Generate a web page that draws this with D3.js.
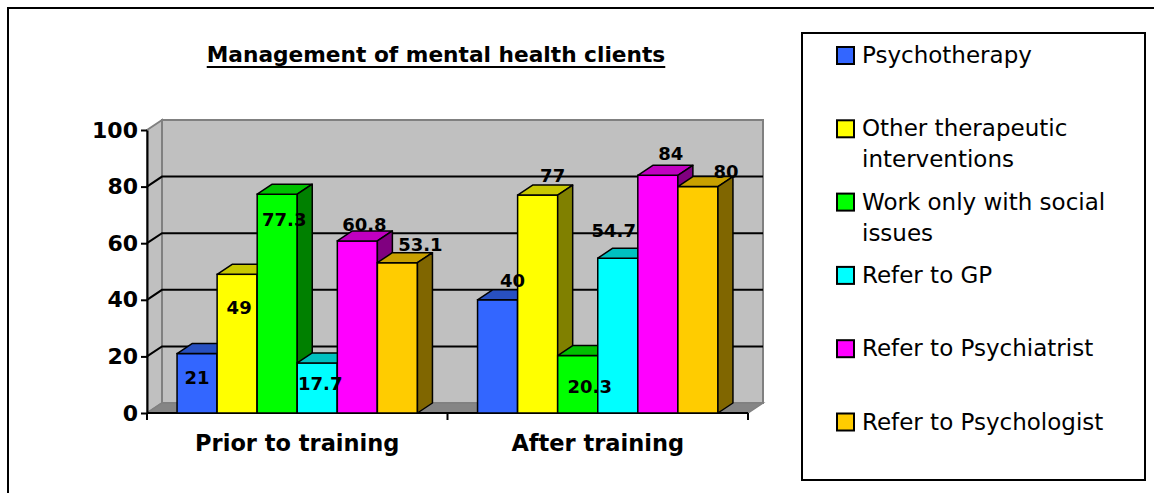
<!DOCTYPE html>
<html>
<head>
<meta charset="utf-8">
<script src="https://d3js.org/d3.v7.min.js"></script>
<style>
body { margin: 0; background: #fff; }
svg { display: block; font-family: "DejaVu Sans", sans-serif; }
</style>
</head>
<body>
<script>
// chart values
var categories = ["Prior to training", "After training"];
var seriesNames = ["Psychotherapy", "Other therapeutic interventions", "Work only with social issues",
                   "Refer to GP", "Refer to Psychiatrist", "Refer to Psychologist"];
var priorValues = [21, 49, 77.3, 17.7, 60.8, 53.1];
var afterValues = [40, 77, 20.3, 54.7, 84, 80];
var yTicks = [0, 20, 40, 60, 80, 100];

var frontColors = ["#3366FF", "#FFFF00", "#00FF00", "#00FFFF", "#FF00FF", "#FFCC00"];
var topColors = ["#2850C0", "#C8C800", "#00C000", "#00C0C0", "#C000C0", "#C8A000"];
var sideColors = ["#1E3C96", "#808000", "#008000", "#008080", "#800080", "#806600"];

// where the value labels sit, relative to the top of each bar (px)
var labelNudge = [
  [[0, 24], [2, 33], [7, 25], [3, 21], [7, -16], [23, -18]],
  [[15, -19], [15, -20], [12, 31], [-4, -28], [13, -22], [28, -15]]
];

var values = [priorValues, afterValues];
var W = 1154, H = 493;
var dx = 15, dy = -10;   // 3D depth offset

var svg = d3.select("body").append("svg")
    .attr("width", W).attr("height", H);

// outer chart border (runs off the picture on right and bottom)
svg.append("rect")
    .attr("x", 8).attr("y", 8).attr("width", 1200).attr("height", 600)
    .attr("fill", "none").attr("stroke", "#000").attr("stroke-width", 2);

var x = d3.scaleBand().domain(categories).range([147, 748]);
var bw = x.bandwidth();
var s = d3.scaleBand().domain(d3.range(seriesNames.length)).range([0.1 * bw, 0.9 * bw]);
var y = d3.scaleLinear().domain([0, 100]).range([413, 130]);

var xL = x.range()[0], xR = x.range()[1];
var y0 = y(0), yTop = y(100);

function pts(a) { return a.map(function(p){ return p.join(","); }).join(" "); }

// left wall
svg.append("polygon")
    .attr("points", pts([[xL, yTop], [xL + dx, yTop + dy], [xL + dx, y0 + dy], [xL, y0]]))
    .attr("fill", "#C0C0C0").attr("stroke", "#808080").attr("stroke-width", 2);
// back wall
svg.append("rect")
    .attr("x", xL + dx).attr("y", yTop + dy)
    .attr("width", xR - xL).attr("height", y0 - yTop)
    .attr("fill", "#C0C0C0").attr("stroke", "#808080").attr("stroke-width", 2);
// floor
svg.append("polygon")
    .attr("points", pts([[xL, y0], [xL + dx, y0 + dy], [xR + dx, y0 + dy], [xR, y0]]))
    .attr("fill", "#858585").attr("stroke", "#808080").attr("stroke-width", 1.5);

// gridlines
svg.append("g").selectAll("polyline")
    .data(yTicks.filter(function(t){ return t > 0 && t < 100; }))
    .enter().append("polyline")
    .attr("points", function(t){
        return pts([[xL, y(t)], [xL + dx, y(t) + dy], [xR + dx, y(t) + dy]]);
    })
    .attr("fill", "none").attr("stroke", "#000").attr("stroke-width", 2);

// y axis
var yAxis = svg.append("g")
    .attr("transform", "translate(" + xL + ",0)")
    .call(d3.axisLeft(y).tickValues(yTicks).tickSize(6).tickSizeOuter(0).tickPadding(3));
yAxis.select(".domain").attr("stroke-width", 2);
yAxis.selectAll(".tick line").attr("stroke-width", 2);
yAxis.selectAll("text")
    .attr("font-family", "DejaVu Sans").attr("font-weight", "bold")
    .attr("font-size", 22).attr("fill", "#000");

// category axis
svg.append("line")
    .attr("x1", xL).attr("x2", xR).attr("y1", y0).attr("y2", y0)
    .attr("stroke", "#000").attr("stroke-width", 2);
var bounds = categories.map(function(c){ return x(c); }).concat([xR]);
svg.append("g").selectAll("line").data(bounds).enter().append("line")
    .attr("x1", function(d){ return d; }).attr("x2", function(d){ return d; })
    .attr("y1", y0).attr("y2", y0 + 7)
    .attr("stroke", "#000").attr("stroke-width", 2);
svg.append("g").selectAll("text").data(categories).enter().append("text")
    .attr("x", function(c){ return x(c) + bw / 2; })
    .attr("y", 451)
    .attr("text-anchor", "middle")
    .attr("font-weight", "bold").attr("font-size", 22.5)
    .text(function(c){ return c; });

// bars, drawn left to right so each hides its left neighbour's side
var bars = [];
categories.forEach(function(c, ci){
    values[ci].forEach(function(v, si){
        bars.push({ci: ci, si: si, v: v, x0: x(c) + s(si), x1: x(c) + s(si) + s.bandwidth()});
    });
});

var barG = svg.append("g").selectAll("g").data(bars).enter().append("g");
barG.append("rect")
    .attr("x", function(d){ return d.x0; })
    .attr("y", function(d){ return y(d.v); })
    .attr("width", function(d){ return d.x1 - d.x0; })
    .attr("height", function(d){ return y0 - y(d.v); })
    .attr("fill", function(d){ return frontColors[d.si]; })
    .attr("stroke", "#000").attr("stroke-width", 1.5);
barG.append("polygon")
    .attr("points", function(d){
        var t = y(d.v);
        return pts([[d.x0, t], [d.x0 + dx, t + dy], [d.x1 + dx, t + dy], [d.x1, t]]);
    })
    .attr("fill", function(d){ return topColors[d.si]; })
    .attr("stroke", "#000").attr("stroke-width", 1.5).attr("stroke-linejoin", "round");
barG.append("polygon")
    .attr("points", function(d){
        var t = y(d.v);
        return pts([[d.x1, t], [d.x1 + dx, t + dy], [d.x1 + dx, y0 + dy], [d.x1, y0]]);
    })
    .attr("fill", function(d){ return sideColors[d.si]; })
    .attr("stroke", "#000").attr("stroke-width", 1.5).attr("stroke-linejoin", "round");

// value labels
svg.append("g").selectAll("text").data(bars).enter().append("text")
    .attr("x", function(d){ return (d.x0 + d.x1) / 2 + labelNudge[d.ci][d.si][0]; })
    .attr("y", function(d){ return y(d.v) + labelNudge[d.ci][d.si][1]; })
    .attr("dy", "0.36em")
    .attr("text-anchor", "middle")
    .attr("font-weight", "bold").attr("font-size", 18)
    .text(function(d){ return d.v; });

// title
var title = svg.append("text")
    .attr("x", 436).attr("y", 62)
    .attr("text-anchor", "middle")
    .attr("font-weight", "bold").attr("font-size", 21.7)
    .text("Management of mental health clients");
var tw = title.node().getComputedTextLength();
svg.append("line")
    .attr("x1", 436 - tw / 2).attr("x2", 436 + tw / 2)
    .attr("y1", 67).attr("y2", 67)
    .attr("stroke", "#000").attr("stroke-width", 2);

// legend
var legend = svg.append("g");
legend.append("rect")
    .attr("x", 802).attr("y", 33).attr("width", 343).attr("height", 447)
    .attr("fill", "#fff").attr("stroke", "#000").attr("stroke-width", 2);

var items = legend.selectAll("g.item").data(seriesNames).enter().append("g")
    .attr("transform", function(d, i){ return "translate(837," + (47 + i * 73.3) + ")"; });
items.append("rect")
    .attr("width", 17).attr("height", 17)
    .attr("fill", function(d, i){ return frontColors[i]; })
    .attr("stroke", "#000").attr("stroke-width", 2);
items.each(function(name){
    var t = d3.select(this).append("text")
        .attr("x", 25).attr("y", 16)
        .attr("font-size", 23);
    // wrap to the legend width
    var words = name.split(" "), line = [], tspan = t.append("tspan").attr("x", 25);
    words.forEach(function(w){
        line.push(w);
        tspan.text(line.join(" "));
        if (tspan.node().getComputedTextLength() > 272 && line.length > 1) {
            line.pop();
            tspan.text(line.join(" "));
            line = [w];
            tspan = t.append("tspan").attr("x", 25).attr("dy", 31).text(w);
        }
    });
});
</script>
</body>
</html>
